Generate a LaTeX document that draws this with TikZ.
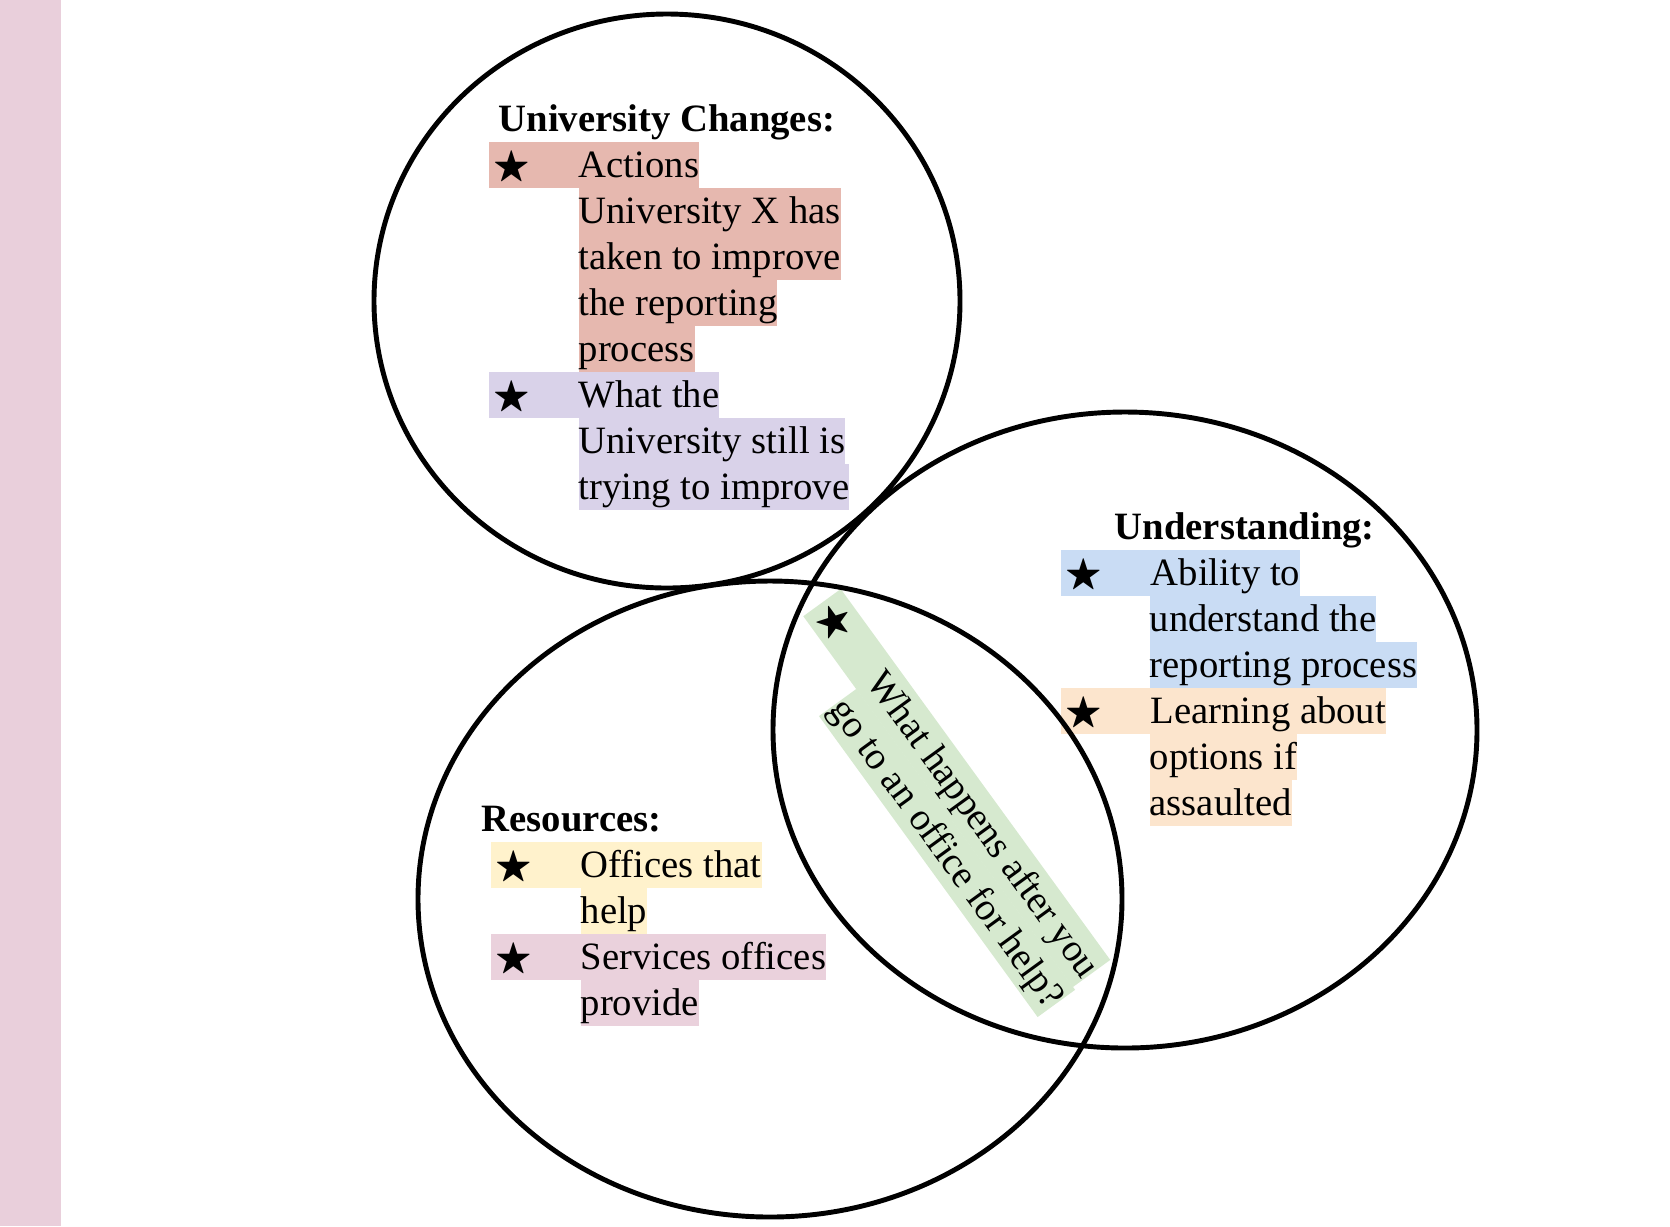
\documentclass[tikz,border=0pt]{standalone}
\usepackage{fontspec}
\setmainfont{Liberation Serif}
\usepackage{amssymb}

\definecolor{sidebar}{HTML}{E9CFDB}
\definecolor{hlred}{HTML}{E6B8AF}
\definecolor{hlpurple}{HTML}{D9D2E9}
\definecolor{hlblue}{HTML}{C9DCF4}
\definecolor{hlorange}{HTML}{FCE5CD}
\definecolor{hlyellow}{HTML}{FFF2CC}
\definecolor{hlpink}{HTML}{EAD1DC}
\definecolor{hlgreen}{HTML}{D6E9CF}

% star + tab in front of a list item
\newcommand{\itemstar}{\makebox[0.9cm][l]{\hspace{0.05cm}$\bigstar$}}

\begin{document}
\begin{tikzpicture}[x=0.01cm, y=-0.01cm,
  ring/.style={draw=black, line width=1.4pt},
  head/.style={anchor=base west, inner sep=0pt, font=\fontsize{11}{13.2}\selectfont\bfseries},
  hlline/.style={anchor=base west, inner xsep=0pt, inner ysep=0pt,
    text height=0.35cm, text depth=0.113cm, font=\fontsize{11}{13.2}\selectfont}]

\useasboundingbox (0,0) rectangle (1670,1226);

% Side bar
\fill[sidebar] (0,0) rectangle (61,1226);

% University Changes
\node[head] (uchead) at (498,131) {University Changes:};
\node[hlline, fill=hlred] (uc1) at (488,177) {\itemstar Actions};
\node[hlline, fill=hlred] (uc2) at (578,223) {University X has};
\node[hlline, fill=hlred] (uc3) at (578,269) {taken to improve};
\node[hlline, fill=hlred] (uc4) at (578,315) {the reporting};
\node[hlline, fill=hlred] (uc5) at (578,361) {process};
\node[hlline, fill=hlpurple] (uc6) at (488,407) {\itemstar What the};
\node[hlline, fill=hlpurple] (uc7) at (578,453) {University still is};
\node[hlline, fill=hlpurple] (uc8) at (578,499) {trying to improve};

% Understanding
\node[head] (unhead) at (1114,539) {Understanding:};
\node[hlline, fill=hlblue] (un1) at (1060,585) {\itemstar Ability to};
\node[hlline, fill=hlblue] (un2) at (1149,631) {understand the};
\node[hlline, fill=hlblue] (un3) at (1149,677) {reporting process};
\node[hlline, fill=hlorange] (un4) at (1060,723) {\itemstar Learning about};
\node[hlline, fill=hlorange] (un5) at (1149,769) {options if};
\node[hlline, fill=hlorange] (un6) at (1149,815) {assaulted};

% Resources
\node[head] (rshead) at (481,831) {Resources:};
\node[hlline, fill=hlyellow] (rs1) at (490,877) {\itemstar Offices that};
\node[hlline, fill=hlyellow] (rs2) at (580,923) {help};
\node[hlline, fill=hlpink] (rs3) at (490,969) {\itemstar Services offices};
\node[hlline, fill=hlpink] (rs4) at (580,1015) {provide};

% Overlap, written on the slant
\begin{scope}[shift={(812,609)}, rotate=-54]
  \node[hlline, fill=hlgreen, transform shape] (ov1) at (0,0) {\itemstar What happens after you};
  \node[hlline, fill=hlgreen, transform shape] (ov2) at (90,46) {go to an office for help?};
\end{scope}

% Circles
\draw[ring] (667,301) ellipse [x radius=293, y radius=287];
\draw[ring] (1125,730) ellipse [x radius=352, y radius=318];
\draw[ring] (770,899) ellipse [x radius=352, y radius=318];

\end{tikzpicture}
\end{document}
